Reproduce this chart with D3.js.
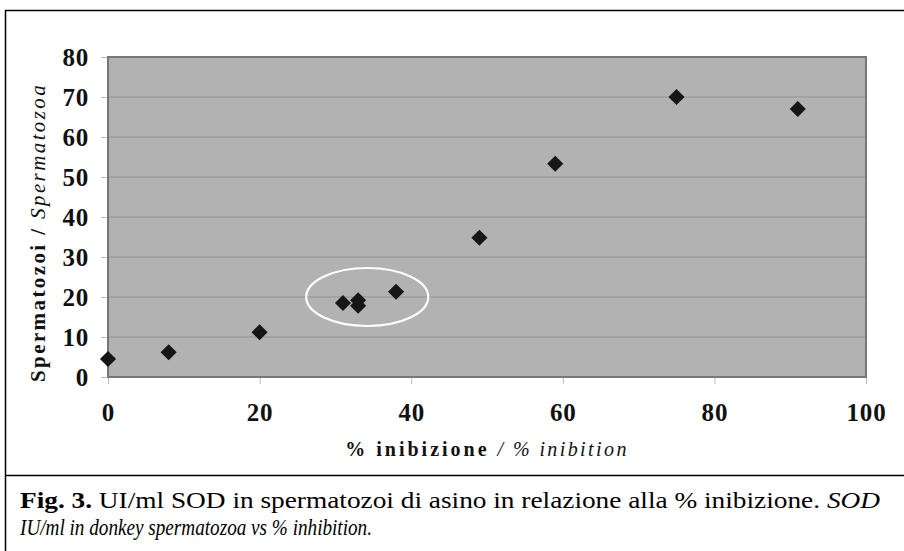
<!DOCTYPE html>
<html>
<head>
<meta charset="utf-8">
<script src="https://cdn.jsdelivr.net/npm/d3@7"></script>
<style>
    body { margin: 0; background: #fff; }
    svg { display: block; }
</style>
</head>
<body>
<div id="chart_parent"></div>
<script>
// values
const inhibition = [0, 8, 20, 31, 33, 33, 38, 49, 59, 75, 91];
const sodPerMl = [4.5, 6.2, 11.2, 18.5, 19.2, 17.8, 21.3, 34.8, 53.3, 70, 67];
const xTicks = [0, 20, 40, 60, 80, 100];
const yTicks = [0, 10, 20, 30, 40, 50, 60, 70, 80];
// circled group: centre and radii in data units
const highlight = [{ cx: 34.2, cy: 20, rx: 8.05, ry: 7.25 }];

const captionLine1 = [
    { text: 'Fig. 3.', weight: 'bold', style: 'normal' },
    { text: ' UI/ml SOD in spermatozoi di asino in relazione alla % inibizione. ', weight: 'normal', style: 'normal' },
    { text: 'SOD', weight: 'normal', style: 'italic' },
];
const captionLine2 = 'IU/ml in donkey spermatozoa vs % inhibition.';

const chartConfig = {
    outerWidth: 904,
    outerHeight: 551,
    plot: { left: 108, right: 866, top: 57, bottom: 377 },
    serif: '"Liberation Serif", "Times New Roman", serif',
};

function initialiseChartElements(rootSelector, config) {
    const svg = d3.select(rootSelector).append('svg')
        .attr('width', config.outerWidth)
        .attr('height', config.outerHeight);

    // figure frame: chart box on top, caption box below (right side is off the picture)
    svg.append('path')
        .attr('d', 'M904,10.5 H5.5 V551 M5.5,475.5 H904')
        .attr('fill', 'none')
        .attr('stroke', '#000')
        .attr('stroke-width', 1.5);

    return { svg };
}

function drawChart(config, elements) {
    const { svg } = elements;
    const p = config.plot;

    const x = d3.scaleLinear().domain([0, 100]).range([p.left, p.right]);
    const y = d3.scaleLinear().domain([0, 80]).range([p.bottom, p.top]);

    svg.append('rect')
        .attr('x', p.left)
        .attr('y', p.top)
        .attr('width', p.right - p.left)
        .attr('height', p.bottom - p.top)
        .attr('fill', '#b2b2b2');

    svg.append('g')
        .selectAll('line')
        .data(yTicks.slice(1, -1))
        .join('line')
        .attr('x1', p.left)
        .attr('x2', p.right)
        .attr('y1', d => y(d))
        .attr('y2', d => y(d))
        .attr('stroke', '#9c9c9c')
        .attr('stroke-width', 1.5);

    svg.append('rect')
        .attr('x', p.left)
        .attr('y', p.top)
        .attr('width', p.right - p.left)
        .attr('height', p.bottom - p.top)
        .attr('fill', 'none')
        .attr('stroke', '#777')
        .attr('stroke-width', 2);

    const yAxis = d3.axisLeft(y)
        .tickValues(yTicks)
        .tickSize(6)
        .tickPadding(12);
    const yAxisGroup = svg.append('g')
        .attr('transform', `translate(${p.left - 1},0)`)
        .call(yAxis);

    const xAxis = d3.axisBottom(x)
        .tickValues(xTicks)
        .tickSize(6)
        .tickPadding(19);
    const xAxisGroup = svg.append('g')
        .attr('transform', `translate(0,${p.bottom + 1})`)
        .call(xAxis);

    [yAxisGroup, xAxisGroup].forEach(g => {
        g.select('.domain').remove();
        g.selectAll('.tick line').attr('stroke', '#bdbdbd').attr('stroke-width', 1);
        g.selectAll('.tick text')
            .attr('fill', '#111')
            .style('font-family', config.serif)
            .style('font-weight', 'bold')
            .style('font-size', '25px')
            .style('letter-spacing', '0.8px');
    });
    yAxisGroup.selectAll('.tick text').attr('dy', '0.34em');

    // diamonds
    const diamond = d3.symbol().type(d3.symbolSquare).size(130);
    svg.append('g')
        .selectAll('path')
        .data(d3.zip(inhibition, sodPerMl))
        .join('path')
        .attr('d', diamond)
        .attr('transform', d => `translate(${x(d[0])},${y(d[1])}) rotate(45)`)
        .attr('fill', '#161616');

    svg.append('g')
        .selectAll('ellipse')
        .data(highlight)
        .join('ellipse')
        .attr('cx', d => x(d.cx))
        .attr('cy', d => y(d.cy))
        .attr('rx', d => x(d.cx + d.rx) - x(d.cx))
        .attr('ry', d => y(d.cy - d.ry) - y(d.cy))
        .attr('fill', 'none')
        .attr('stroke', '#fff')
        .attr('stroke-width', 2.2);

    // x title
    const xTitle = svg.append('text')
        .attr('x', (p.left + p.right) / 2)
        .attr('y', 456)
        .attr('text-anchor', 'middle')
        .attr('fill', '#111')
        .style('font-family', config.serif)
        .style('font-size', '20px');
    xTitle.append('tspan')
        .style('font-weight', 'bold')
        .style('letter-spacing', '3px')
        .text('% inibizione ');
    xTitle.append('tspan')
        .style('font-style', 'italic')
        .style('letter-spacing', '2.4px')
        .text('/ % inibition');

    // y title
    const yTitle = svg.append('text')
        .attr('transform', 'translate(45,382) rotate(-90)')
        .attr('text-anchor', 'start')
        .attr('fill', '#111')
        .style('font-family', config.serif)
        .style('font-size', '21px');
    yTitle.append('tspan')
        .style('font-weight', 'bold')
        .style('letter-spacing', '2.4px')
        .text('Spermatozoi /  ');
    yTitle.append('tspan')
        .style('font-style', 'italic')
        .style('letter-spacing', '2.4px')
        .text('Spermatozoa');

    // caption
    const cap1 = svg.append('text')
        .attr('x', 20)
        .attr('y', 508)
        .attr('textLength', 860)
        .attr('lengthAdjust', 'spacingAndGlyphs')
        .attr('fill', '#000')
        .style('font-family', config.serif)
        .style('font-size', '24px');
    cap1.selectAll('tspan')
        .data(captionLine1)
        .join('tspan')
        .style('font-weight', d => d.weight)
        .style('font-style', d => d.style)
        .text(d => d.text);

    svg.append('text')
        .attr('x', 20)
        .attr('y', 535)
        .attr('textLength', 352)
        .attr('lengthAdjust', 'spacingAndGlyphs')
        .attr('fill', '#000')
        .style('font-family', config.serif)
        .style('font-size', '24px')
        .style('font-style', 'italic')
        .text(captionLine2);
}

const chartElements = initialiseChartElements('#chart_parent', chartConfig);
drawChart(chartConfig, chartElements);
</script>
</body>
</html>
